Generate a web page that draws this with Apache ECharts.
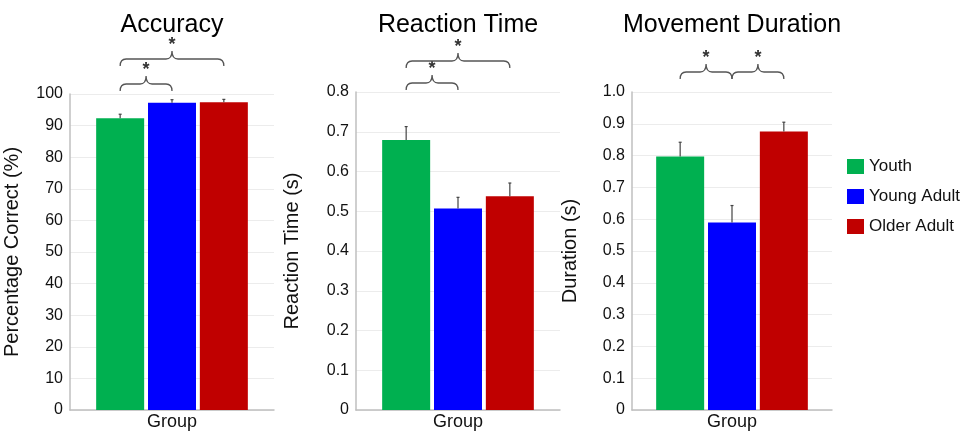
<!DOCTYPE html>
<html>
<head>
<meta charset="utf-8">
<script src="https://cdn.jsdelivr.net/npm/echarts@6/dist/echarts.min.js"></script>
<style>html,body{margin:0;padding:0;background:#fff;}#c{width:966px;height:432px;}</style>
</head>
<body>
<div id="c"></div>
<script>
// ---- data ----
const categories = ['Group'];
const seriesNames = ['Youth', 'Young Adult', 'Older Adult'];
const panelTitles = ['Accuracy', 'Reaction Time', 'Movement Duration'];
const yAxisNames = ['Percentage Correct (%)', 'Reaction Time (s)', 'Duration (s)'];
const accuracyMean = [92.3, 97.2, 97.4];
const accuracyUpper = [93.6, 98.2, 98.3];
const reactionMean = [0.679, 0.507, 0.538];
const reactionUpper = [0.713, 0.535, 0.571];
const durationMean = [0.797, 0.590, 0.876];
const durationUpper = [0.842, 0.643, 0.905];
const yMax = [100, 0.8, 1.0];
const yInterval = [10, 0.1, 0.1];
const accuracyBrackets = [[0, 1, '*'], [0, 2, '*']];
const reactionBrackets = [[0, 1, '*'], [0, 2, '*']];
const durationBrackets = [[0, 1, '*'], [1, 2, '*']];

// ---- layout / style ----
const BAR_W = 48;
const BAR_GAP = 0.08;
const STEP = BAR_W * (1 + BAR_GAP);
const colors = ['#00b050', '#0000ff', '#c00000'];
const FONT = 'Liberation Sans, Arial, sans-serif';
const grids = [
  { left: 70, top: 94, width: 204, height: 316 },
  { left: 356, top: 92, width: 204, height: 318 },
  { left: 632, top: 92, width: 200, height: 318 }
];
const nameGaps = [48, 54, 52];
const bracketRise = [[10, 35], [9, 31], [20, 20]]; // px above grid top per bracket

const means = [accuracyMean, reactionMean, durationMean];
const uppers = [accuracyUpper, reactionUpper, durationUpper];
const brackets = [accuracyBrackets, reactionBrackets, durationBrackets];

const chart = echarts.init(document.getElementById('c'), null, { renderer: 'canvas' });

const xAxis = [], yAxis = [], series = [], title = [];
grids.forEach((g, i) => {
  title.push({
    text: panelTitles[i], left: g.left + g.width / 2, textAlign: 'center', top: 13, padding: 0,
    textStyle: { fontFamily: FONT, fontSize: 25, fontWeight: 'normal', color: '#000' }
  });
  xAxis.push({
    type: 'category', gridIndex: i, data: categories,
    axisTick: { show: false },
    axisLine: { lineStyle: { color: '#bfbfbf', width: 1.5 } },
    axisLabel: { fontFamily: FONT, fontSize: 18, color: '#111', margin: 3 }
  });
  yAxis.push({
    type: 'value', gridIndex: i, min: 0, max: yMax[i], interval: yInterval[i],
    name: yAxisNames[i], nameLocation: 'middle', nameGap: nameGaps[i],
    nameTextStyle: { fontFamily: FONT, fontSize: 20, color: '#111' },
    axisLine: { show: true, lineStyle: { color: '#bfbfbf', width: 1.5 } },
    axisTick: { show: false },
    splitLine: { lineStyle: { color: '#ececec' } },
    axisLabel: {
      fontFamily: FONT, fontSize: 16, color: '#111', margin: 7,
      formatter: v => (i === 0 ? String(v) : (v === 0 ? '0' : v.toFixed(1)))
    }
  });
  seriesNames.forEach((n, j) => {
    series.push({
      type: 'bar', name: n, xAxisIndex: i, yAxisIndex: i,
      data: [means[i][j]], barWidth: BAR_W, barGap: (BAR_GAP * 100) + '%',
      itemStyle: { color: colors[j] }
    });
  });
  // error bars
  series.push({
    type: 'custom', xAxisIndex: i, yAxisIndex: i, z: 5, silent: true,
    data: seriesNames.map((n, j) => [0, uppers[i][j], means[i][j], j]),
    encode: { x: 0, y: 1 },
    renderItem: (params, api) => {
      const j = api.value(3);
      const top = api.coord([0, api.value(1)]);
      const base = api.coord([0, api.value(2)]);
      const x = top[0] + (j - 1) * STEP;
      return {
        type: 'group', children: [
          { type: 'line', shape: { x1: x, y1: base[1], x2: x, y2: top[1] }, style: { stroke: '#444', lineWidth: 1.2 } },
          { type: 'line', shape: { x1: x - 1.5, y1: top[1], x2: x + 1.5, y2: top[1] }, style: { stroke: '#444', lineWidth: 1.2 } }
        ]
      };
    }
  });
  // significance brackets
  series.push({
    type: 'custom', xAxisIndex: i, yAxisIndex: i, z: 6, silent: true, clip: false,
    data: brackets[i].map((b, k) => [0, 0, b[0], b[1], k]),
    encode: { x: 0, y: 1 },
    renderItem: (params, api) => {
      const k = api.value(4);
      const c = api.coord([0, 0])[0];
      const x1 = c + (api.value(2) - 1) * STEP;
      const x2 = c + (api.value(3) - 1) * STEP;
      const mid = (x1 + x2) / 2;
      const yH = params.coordSys.y - bracketRise[i][k];
      const tip = yH + 7, spike = yH - 8, r = 6;
      const path = `M${x1},${tip} Q${x1},${yH} ${x1 + r},${yH} L${mid - r},${yH} Q${mid},${yH} ${mid},${spike} Q${mid},${yH} ${mid + r},${yH} L${x2 - r},${yH} Q${x2},${yH} ${x2},${tip}`;
      return {
        type: 'group', children: [
          { type: 'path', shape: { pathData: path }, style: { fill: null, stroke: '#555', lineWidth: 1.3 } },
          { type: 'text', x: mid, y: spike + 3, style: { text: brackets[i][k][2], fontFamily: FONT, fontSize: 18, fontWeight: 'bold', fill: '#333', align: 'center', verticalAlign: 'bottom' } }
        ]
      };
    }
  });
});

chart.setOption({
  animation: false,
  backgroundColor: '#fff',
  title,
  legend: {
    data: seriesNames, orient: 'vertical', left: 847, top: 158, padding: 0,
    itemWidth: 17, itemHeight: 15, itemGap: 13, icon: 'rect',
    textStyle: { fontFamily: FONT, fontSize: 17, color: '#111' }
  },
  grid: grids.map(g => Object.assign({ containLabel: false }, g)),
  xAxis, yAxis, series
});
</script>
</body>
</html>
